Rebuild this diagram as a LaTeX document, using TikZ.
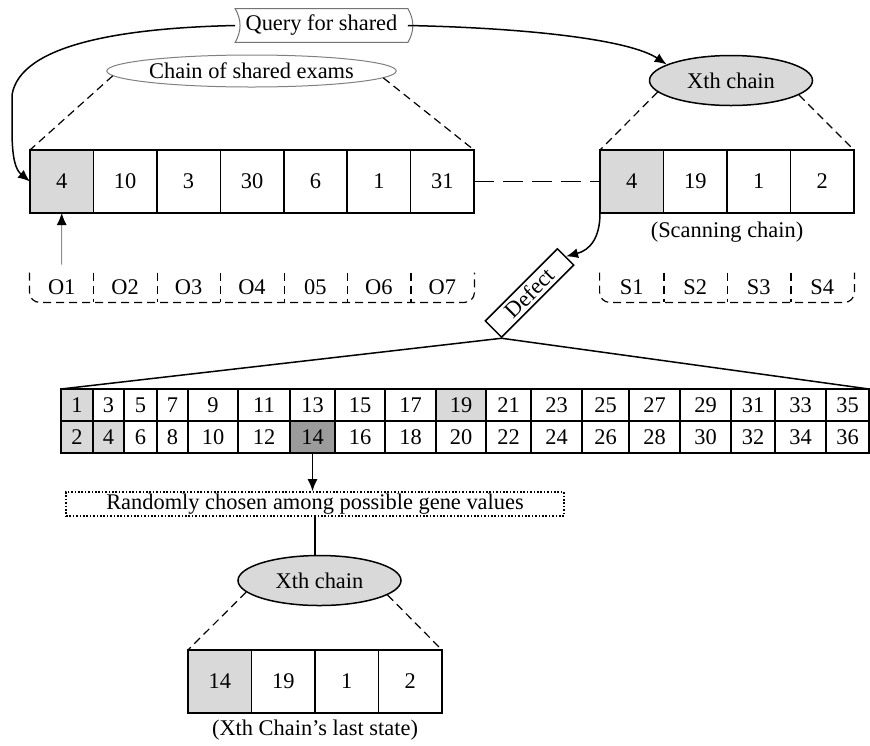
\documentclass[tikz,border=0pt]{standalone}
\usepackage{fontspec}
\setmainfont{Liberation Serif}
\usetikzlibrary{arrows.meta,positioning,shapes.geometric}
\definecolor{clight}{HTML}{D9D9D9}
\definecolor{cdark}{HTML}{9B9B9B}

\begin{document}
\begin{tikzpicture}[
    x=0.5pt, y=0.5pt,
    font=\fontsize{11.2}{13}\selectfont,
    cell/.style={draw, line width=0.75pt, inner sep=0pt, outer sep=0pt, minimum width=31.75pt, minimum height=31.5pt},
    shaded/.style={fill=clight},
    tcell/.style={draw, line width=0.75pt, inner sep=0pt, outer sep=0pt, minimum height=16pt},
    gene1/.style={fill=clight}, gene2/.style={fill=clight}, gene4/.style={fill=clight},
    gene19/.style={fill=clight}, gene14/.style={fill=cdark},
    tag/.style={inner sep=0pt, minimum width=31.75pt, minimum height=14.5pt},
    bracket/.style={dash pattern=on 4pt off 2.5pt, line width=0.6pt, rounded corners=5pt},
    zoom/.style={dash pattern=on 4pt off 2.5pt, line width=0.6pt},
    chainname/.style={ellipse, draw, line width=0.75pt, fill=clight, minimum width=81.5pt, minimum height=25pt, inner sep=0pt},
    flow/.style={line width=0.75pt, -{Latex[length=6pt,width=5pt]}},
]
\useasboundingbox (0,0) rectangle (870,-745);
% query banner
\node[minimum width=86pt, minimum height=16.5pt, inner sep=0pt] (query) at (321.5,-25.5) {Query for shared};
\draw[black!55, line width=0.5pt] (query.north west) to[bend left=30] (query.south west) -- (query.south east) to[bend right=30] (query.north east) -- cycle;
% shared chain
\node[ellipse, draw=black!50, line width=0.5pt, minimum width=141.5pt, minimum height=16pt, inner sep=0pt] (shared) at (251.5,-71) {Chain of shared exams};
\node[cell, shaded] (o1) at (61.7,-181.5) {4};
\foreach \v [count=\i from 2] in {10,3,30,6,1,31}
  \node[cell] (o\i) at ({30+63.43*(\i-0.5)},-181.5) {\v};
\foreach \t [count=\i] in {O1,O2,O3,O4,05,O6,O7}
  \node[tag] (ot\i) at ({30+63.43*(\i-0.5)},-287.5) {\t};
\draw[bracket] (ot1.north west) -- (ot1.south west) -- (ot7.south east) -- (ot7.north east);
\foreach \i in {1,...,6}
  \draw[zoom] (ot\i.north east) -- (ot\i.south east);
\draw[zoom] (shared.182) -- (o1.north west);
\draw[zoom] (shared.-3) -- (o7.north east);
\draw[line width=0.5pt, black!45, -{Latex[length=6pt,width=5pt,color=black]}, shorten <=4pt] (ot1.north) -- (o1.south);
% scanning chain
\node[chainname] (xth) at (731,-80.5) {Xth chain};
\node[cell, shaded] (r1) at (631.75,-181.5) {4};
\foreach \v [count=\i from 2] in {19,1,2}
  \node[cell] (r\i) at ({600+63.5*(\i-0.5)},-181.5) {\v};
\foreach \t [count=\i] in {S1,S2,S3,S4}
  \node[tag] (rt\i) at ({600+63.5*(\i-0.5)},-287.5) {\t};
\draw[bracket] (rt1.north west) -- (rt1.south west) -- (rt4.south east) -- (rt4.north east);
\foreach \i in {1,...,3}
  \draw[zoom] (rt\i.north east) -- (rt\i.south east);
\draw[zoom] (xth.189) -- (r1.north west);
\draw[zoom] (xth.-12) -- (r4.north east);
\node[below=1pt of r2.south east] (scanning) {(Scanning chain)};
\draw[line width=0.75pt, dash pattern=on 10pt off 4.5pt] (o7.east) -- (r1.west);
% query arrows
\draw[flow] (query.west) .. controls (120,-28) and (20,-45) .. (12,-95) -- (12,-130) .. controls (12,-160) and (16,-170) .. (o1.west);
\draw[flow] (query.east) .. controls (530,-28) and (630,-40) .. (xth.166);
% defect
\node[draw, line width=0.75pt, rotate=45, minimum width=51pt, minimum height=11.5pt, inner sep=0.5pt, font=\fontsize{11.2}{12}\selectfont] (defect) at (529.5,-293) {Defect};
\draw[flow] (r1.south west) .. controls (600,-238) and (590,-250) .. (defect.east);
% gene values table
\foreach \xa/\xb [count=\k] in {61/93,93/124,124/157,157/188,188/238,238/290,290/335,335/385,385/436,436/486,486/531,531/582,582/629,629/680,680/731,731/775,775/826,826/869}{
  \pgfmathtruncatemacro\tn{2*\k-1}
  \pgfmathtruncatemacro\bn{2*\k}
  \pgfmathsetmacro\w{(\xb-\xa)*0.5}
  \node[tcell, minimum width=\w pt, gene\tn/.try] (c\tn) at ({(\xa+\xb)/2},-405) {\tn};
  \node[tcell, minimum width=\w pt, gene\bn/.try] (c\bn) at ({(\xa+\xb)/2},-437) {\bn};
}
\draw[line width=0.75pt] (c1.north west) -- (defect.south west) -- (c35.north east);
% random choice
\node[draw, line width=0.8pt, dash pattern=on 0.8pt off 0.9pt, minimum width=249pt, minimum height=12pt, inner sep=0pt] (rnd) at (315,-504) {Randomly chosen among possible gene values};
\draw[flow] (c14.south) -- (c14.south |- rnd.north);
% last state
\node[chainname] (xthlast) at (319.5,-580.5) {Xth chain};
\draw[line width=0.75pt] (rnd.south) -- (rnd.south |- xthlast.north);
\node[cell, shaded] (lc1) at (219.75,-681.5) {14};
\foreach \v [count=\i from 2] in {19,1,2}
  \node[cell] (lc\i) at ({188+63.5*(\i-0.5)},-681.5) {\v};
\draw[zoom] (xthlast.189) -- (lc1.north west);
\draw[zoom] (xthlast.-12) -- (lc4.north east);
\node[below=0pt of lc2.south east] (laststate) {(Xth Chain's last state)};
\end{tikzpicture}
\end{document}
